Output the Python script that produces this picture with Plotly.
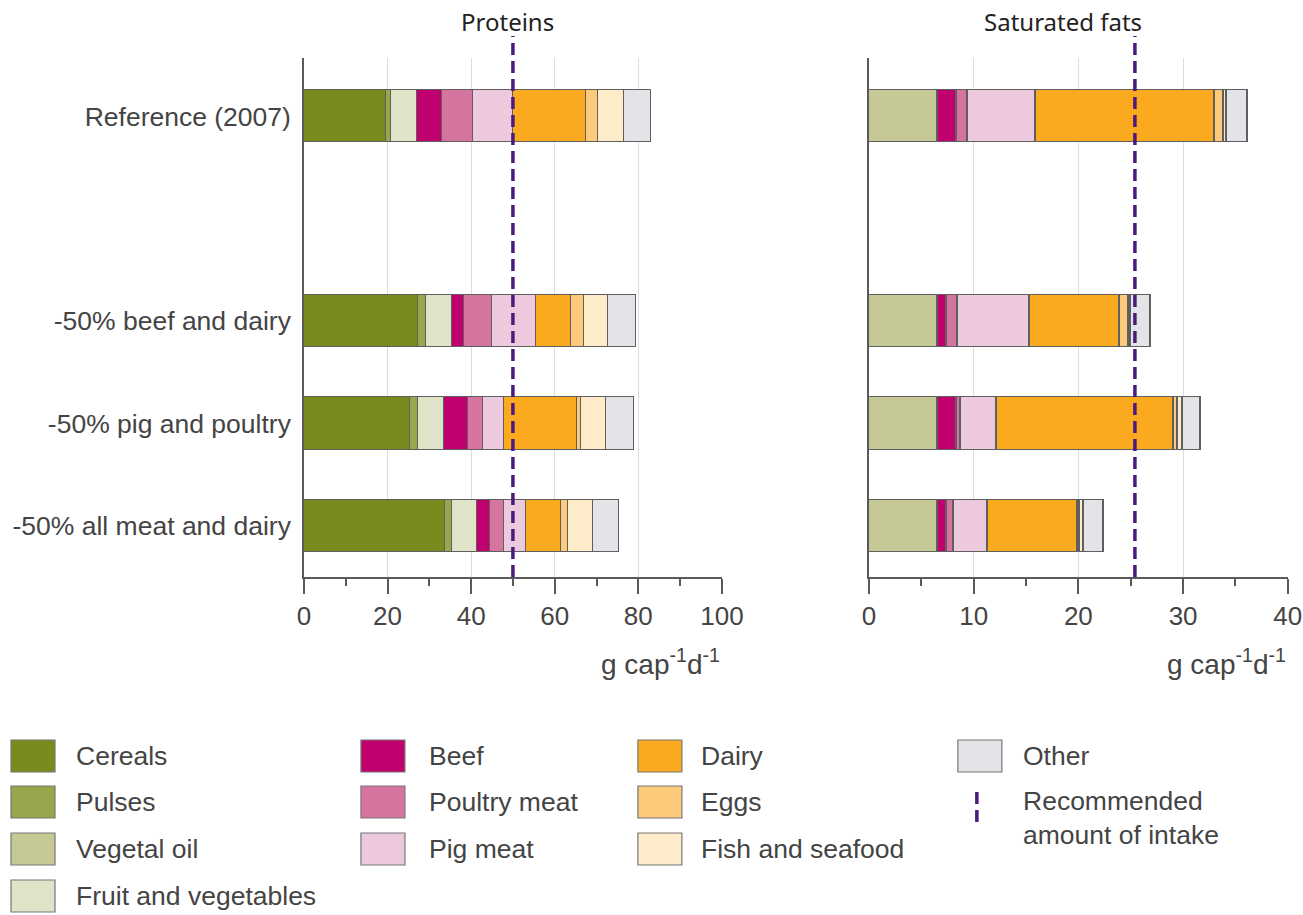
import plotly.graph_objects as go

# ---------------- data ----------------
scenarios = ["Reference (2007)", " ", "-50% beef and dairy", "-50% pig and poultry", "-50% all meat and dairy"]
groups = ["Cereals", "Pulses", "Vegetal oil", "Fruit and vegetables", "Beef", "Poultry meat",
          "Pig meat", "Dairy", "Eggs", "Fish and seafood", "Other"]

# Proteins, g cap-1 d-1 (Reference, blank row, -50% beef&dairy, -50% pig&poultry, -50% all meat&dairy)
prot_cereals = [19.5, None, 27.2, 25.4, 33.7]
prot_pulses = [1.3, None, 2.0, 1.8, 1.6]
prot_vegoil = [0.0, None, 0.0, 0.0, 0.0]
prot_fruitveg = [6.2, None, 6.1, 6.4, 6.1]
prot_beef = [5.9, None, 2.9, 5.6, 3.1]
prot_poultry = [7.5, None, 6.8, 3.6, 3.4]
prot_pig = [9.5, None, 10.5, 5.1, 5.2]
prot_dairy = [17.6, None, 8.4, 17.4, 8.5]
prot_eggs = [2.9, None, 3.2, 1.0, 1.6]
prot_fish = [6.2, None, 5.7, 5.9, 6.0]
prot_other = [6.4, None, 6.6, 6.8, 6.2]

# Saturated fats, g cap-1 d-1
fat_cereals = [0.0, None, 0.0, 0.0, 0.0]
fat_pulses = [0.0, None, 0.0, 0.0, 0.0]
fat_vegoil = [6.54, None, 6.54, 6.54, 6.54]
fat_fruitveg = [0.0, None, 0.0, 0.0, 0.0]
fat_beef = [1.83, None, 0.9, 1.85, 0.95]
fat_poultry = [1.11, None, 1.1, 0.4, 0.6]
fat_pig = [6.5, None, 6.85, 3.4, 3.25]
fat_dairy = [17.1, None, 8.55, 16.95, 8.65]
fat_eggs = [0.8, None, 0.9, 0.35, 0.2]
fat_fish = [0.3, None, 0.15, 0.45, 0.3]
fat_other = [2.0, None, 1.9, 1.75, 1.95]

recommended_protein = 50
recommended_satfat = 25.4

protein_ticks = [0, 20, 40, 60, 80, 100]
fat_ticks = [0, 10, 20, 30, 40]

# ---------------- styles ----------------
colors = ["#7b8a1c", "#97a74c", "#c6c995", "#dfe4c9", "#c0006e", "#d5749f",
          "#ecc9dc", "#fbaa1f", "#fdc97b", "#feebca", "#e3e4e8"]
line_color = "#4a1b7c"
text_color = "#444444"
axis_color = "#5a5a5a"
FONT = "Liberation Sans, Arial, sans-serif"

protein_series = [prot_cereals, prot_pulses, prot_vegoil, prot_fruitveg, prot_beef, prot_poultry,
                  prot_pig, prot_dairy, prot_eggs, prot_fish, prot_other]
fat_series = [fat_cereals, fat_pulses, fat_vegoil, fat_fruitveg, fat_beef, fat_poultry,
              fat_pig, fat_dairy, fat_eggs, fat_fish, fat_other]

fig = go.Figure()
for name, vals, col in zip(groups, protein_series, colors):
    fig.add_trace(go.Bar(y=scenarios, x=vals, orientation="h", name=name, width=0.51,
                         marker=dict(color=col, line=dict(color="#5f5f5f", width=1.4)),
                         xaxis="x", yaxis="y", showlegend=False))
for name, vals, col in zip(groups, fat_series, colors):
    fig.add_trace(go.Bar(y=scenarios, x=vals, orientation="h", name=name, width=0.51,
                         marker=dict(color=col, line=dict(color="#5f5f5f", width=1.4)),
                         xaxis="x2", yaxis="y2", showlegend=False))

W_REF, H = 1303, 915
W = 1324
def px(x):
    return ((x - 6) / 0.994) / W_REF
def py(y):
    return 1 - y / H

ydom = [py(577), py(58)]
xaxis_common = dict(showline=True, linecolor=axis_color, linewidth=1.5, ticks="outside",
                    ticklen=15, tickwidth=1.5, tickcolor=axis_color, showgrid=True,
                    gridcolor="#dcdcdc", gridwidth=1, zeroline=False,
                    tickfont=dict(family=FONT, size=26, color=text_color),
                    minor=dict(ticks="outside", ticklen=7, tickwidth=1.5, tickcolor=axis_color,
                               showgrid=False))
yaxis_common = dict(type="category", categoryorder="array", categoryarray=scenarios,
                    range=[4.5, -0.57], showline=True, linecolor=axis_color, linewidth=1.5,
                    showgrid=False, zeroline=False, ticks="", domain=ydom)

fig.update_layout(
    width=W, height=H, autosize=False,
    margin=dict(l=0, r=0, t=0, b=0),
    paper_bgcolor="white", plot_bgcolor="white",
    barmode="stack", bargap=0,
    xaxis=dict(domain=[px(303), px(721)], range=[0, 100], tickvals=protein_ticks,
               minor_dtick=10, anchor="y", **xaxis_common),
    xaxis2=dict(domain=[px(868), px(1287)], range=[0, 40], tickvals=fat_ticks,
                minor_dtick=5, anchor="y2", **xaxis_common),
    yaxis=dict(anchor="x", showticklabels=True, ticklabelstandoff=6,
               tickfont=dict(family=FONT, size=26.5, color=text_color), **yaxis_common),
    yaxis2=dict(anchor="x2", showticklabels=False, **yaxis_common),
)

# recommended intake lines
for xref, val in (("x", recommended_protein), ("x2", recommended_satfat)):
    fig.add_shape(type="line", xref=xref, yref="paper", x0=val, x1=val, y0=py(577), y1=py(36),
                  line=dict(color=line_color, width=3.5, dash="12px,6px"), layer="above")

# titles and axis titles
title_font = dict(family="Noto Sans, sans-serif", size=24, color="#222222")
fig.add_annotation(text="Proteins", xref="paper", yref="paper", x=px(507), y=py(22),
                   showarrow=False, font=title_font, xanchor="center", yanchor="middle")
fig.add_annotation(text="Saturated fats", xref="paper", yref="paper", x=px(1062), y=py(22),
                   showarrow=False, font=title_font, xanchor="center", yanchor="middle")
unit = "g cap<sup>-1</sup>d<sup>-1</sup>"
for xr in (721, 1287):
    fig.add_annotation(text=unit, xref="paper", yref="paper", x=px(xr), y=py(662),
                       showarrow=False, xanchor="right", yanchor="middle",
                       font=dict(family=FONT, size=28, color=text_color))

# legend (drawn manually to match the column layout)
legend_cols = [
    (10, 73, ["Cereals", "Pulses", "Vegetal oil", "Fruit and vegetables"]),
    (360, 426, ["Beef", "Poultry meat", "Pig meat"]),
    (637, 698, ["Dairy", "Eggs", "Fish and seafood"]),
    (957, 1020, ["Other"]),
]
row_y = [756, 802, 849, 896]
leg_font = dict(family=FONT, size=26.5, color=text_color)
for sx, tx, names in legend_cols:
    for i, nm in enumerate(names):
        cy = row_y[i]
        col = colors[groups.index(nm)]
        fig.add_shape(type="rect", xref="paper", yref="paper", x0=px(sx), x1=px(sx + 44),
                      y0=py(cy + 16), y1=py(cy - 16), fillcolor=col,
                      line=dict(color="#777777", width=1.2))
        fig.add_annotation(text=nm, xref="paper", yref="paper", x=px(tx), y=py(cy),
                           showarrow=False, xanchor="left", yanchor="middle", font=leg_font)
fig.add_shape(type="line", xref="paper", yref="paper", x0=px(976), x1=px(976),
              y0=py(822), y1=py(786), line=dict(color=line_color, width=3.5, dash="12px,6px"))
fig.add_annotation(text="Recommended<br>amount of intake", xref="paper", yref="paper",
                   x=px(1020), y=py(818), showarrow=False, xanchor="left", yanchor="middle",
                   align="left", font=leg_font)

fig.write_html("out.html", config={"displayModeBar": False},
               post_script="document.body.style.margin='0';document.body.style.overflow='hidden';")
